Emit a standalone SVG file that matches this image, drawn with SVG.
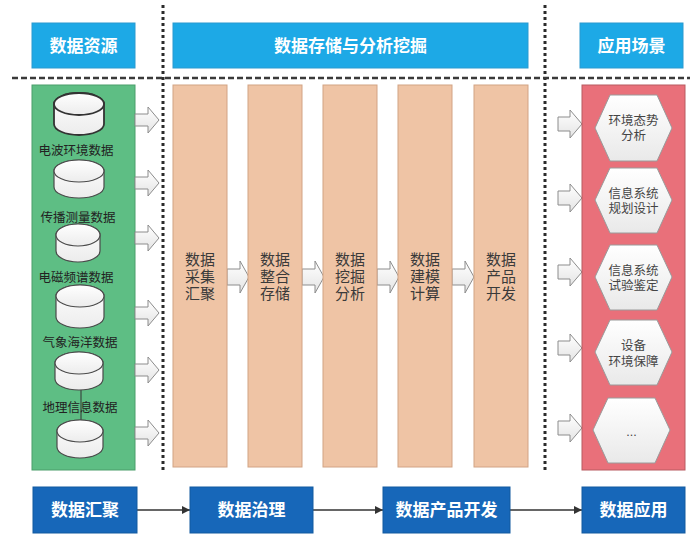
<svg xmlns="http://www.w3.org/2000/svg" width="700" height="541" viewBox="0 0 700 541">
<defs>
<style>
.hdr{fill:#1DA9E6;stroke:#2A9AD0;stroke-width:1}
.htxt{font-family:"Noto Sans CJK SC","Noto Sans",sans-serif;font-size:17px;font-weight:bold;fill:#fff;text-anchor:middle}
.bot{fill:#1767B9;stroke:#135A9F;stroke-width:1}
.col{fill:#EFC4A5;stroke:#D2A384;stroke-width:1}
.ctxt{font-family:"Liberation Sans","Noto Sans CJK SC",sans-serif;font-size:15px;fill:#3A3A3A;text-anchor:middle}
.cyl{fill:url(#cylg);stroke:#4a4a4a;stroke-width:1.2}
.ltxt{font-family:"Noto Sans CJK SC","Noto Sans",sans-serif;font-size:12.5px;fill:#222;text-anchor:middle}
.hex{fill:url(#hexg);stroke:#9a9a9a;stroke-width:1}
.xtxt{font-family:"Liberation Sans","Noto Sans CJK SC",sans-serif;font-size:12.5px;fill:#444;text-anchor:middle}
.barrow{fill:url(#arg);stroke:#8c8c8c;stroke-width:1}
.vsep{stroke:#2b2b2b;stroke-width:3;stroke-dasharray:3 3;fill:none}
.hsep{stroke:#3a3a3a;stroke-width:2.5;stroke-dasharray:6 3;fill:none}
.flow{stroke:#333;stroke-width:1.3;fill:none;marker-end:url(#ah)}
</style>
<linearGradient id="cylg" x1="0" y1="0" x2="0" y2="1">
<stop offset="0" stop-color="#ffffff"/><stop offset="1" stop-color="#ececec"/>
</linearGradient>
<linearGradient id="hexg" x1="0" y1="0" x2="0" y2="1">
<stop offset="0" stop-color="#ffffff"/><stop offset="1" stop-color="#e9e9e9"/>
</linearGradient>
<linearGradient id="arg" x1="0" y1="0" x2="0" y2="1">
<stop offset="0" stop-color="#ffffff"/><stop offset="1" stop-color="#e4e4e4"/>
</linearGradient>
<marker id="ah" viewBox="0 0 10 10" refX="10" refY="5" markerWidth="8" markerHeight="8" orient="auto" markerUnits="userSpaceOnUse">
<path d="M0,0 L10,5 L0,10 z" fill="#333"/>
</marker>
<path id="arL" d="M0,-6 H13 V-13 L24,0 L13,13 V6 H0 Z"/>
<path id="arM" d="M0,-8 H13 V-16 L22,0 L13,16 V8 H0 Z"/>
<path id="arR" d="M0,-7 H12 V-14 L24,0 L12,14 V7 H0 Z"/>
</defs>
<rect width="700" height="541" fill="#fff"/>

<g id="separators">
<line class="vsep" x1="163" y1="5" x2="163" y2="470"/>
<line class="vsep" x1="545" y1="5" x2="545" y2="470"/>
<line class="hsep" x1="12" y1="78" x2="690" y2="78"/>
</g>

<g id="hdr-source"><rect class="hdr" x="32" y="23" width="103" height="45"/><text class="htxt" x="83.5" y="51.5">数据资源</text></g>
<g id="hdr-storage"><rect class="hdr" x="173" y="23" width="355" height="45"/><text class="htxt" x="350.5" y="51.5">数据存储与分析挖掘</text></g>
<g id="hdr-app"><rect class="hdr" x="580" y="23" width="103" height="45"/><text class="htxt" x="631.5" y="51.5">应用场景</text></g>

<g id="source-panel">
<rect x="32" y="85" width="103" height="385" fill="#5EBE84" stroke="#4A9E6B" stroke-width="1"/>
</g>

<g id="connectors">
<line x1="81" y1="390" x2="81" y2="420" stroke="#333" stroke-width="1"/>
<use href="#arL" class="barrow" x="135" y="120"/>
<use href="#arL" class="barrow" x="135" y="183"/>
<use href="#arL" class="barrow" x="135" y="238"/>
<use href="#arL" class="barrow" x="135" y="313"/>
<use href="#arL" class="barrow" x="135" y="370"/>
<use href="#arL" class="barrow" x="135" y="433"/>
<use href="#arM" class="barrow" x="227" y="277"/>
<use href="#arM" class="barrow" x="302" y="277"/>
<use href="#arM" class="barrow" x="377" y="277"/>
<use href="#arM" class="barrow" x="452" y="277"/>
<use href="#arR" class="barrow" x="558" y="124"/>
<use href="#arR" class="barrow" x="558" y="198"/>
<use href="#arR" class="barrow" x="558" y="272"/>
<use href="#arR" class="barrow" x="558" y="348"/>
<use href="#arR" class="barrow" x="558" y="428"/>
<line class="flow" x1="137" y1="510" x2="190" y2="510"/>
<line class="flow" x1="313" y1="510" x2="383" y2="510"/>
<line class="flow" x1="510" y1="510" x2="582" y2="510"/>
</g>

<g id="db-radio">
<path class="cyl" style="stroke:#333;stroke-width:1.8" d="M54,104 V124 A25,11 0 0 0 104,124 V104 A25,11 0 0 0 54,104 Z"/>
<ellipse class="cyl" style="stroke:#333;stroke-width:1.8" cx="79" cy="104" rx="25" ry="11"/>
<text class="ltxt" x="76" y="154.5">电波环境数据</text>
</g>
<g id="db-prop">
<path class="cyl" d="M54,171 V187 A25,11 0 0 0 104,187 V171 A25,11 0 0 0 54,171 Z"/>
<ellipse class="cyl" cx="79" cy="171" rx="25" ry="11"/>
<text class="ltxt" x="78" y="221.5">传播测量数据</text>
</g>
<g id="db-spec">
<path class="cyl" d="M56,235 V251 A22,11 0 0 0 100,251 V235 A22,11 0 0 0 56,235 Z"/>
<ellipse class="cyl" cx="78" cy="235" rx="22" ry="11"/>
<text class="ltxt" x="76" y="281.5">电磁频谱数据</text>
</g>
<g id="db-met">
<path class="cyl" d="M56,296 V317 A24,11 0 0 0 104,317 V296 A24,11 0 0 0 56,296 Z"/>
<ellipse class="cyl" cx="80" cy="296" rx="24" ry="11"/>
<text class="ltxt" x="80" y="346.5">气象海洋数据</text>
</g>
<g id="db-geo-a">
<path class="cyl" d="M55,363 V379 A24,11 0 0 0 103,379 V363 A24,11 0 0 0 55,363 Z"/>
<ellipse class="cyl" cx="79" cy="363" rx="24" ry="11"/>
<text class="ltxt" x="80" y="411.5">地理信息数据</text>
</g>
<g id="db-geo-b">
<path class="cyl" d="M57,431 V447 A23,11 0 0 0 103,447 V431 A23,11 0 0 0 57,431 Z"/>
<ellipse class="cyl" cx="80" cy="431" rx="23" ry="11"/>
</g>

<g id="col-collect"><rect class="col" x="173" y="85" width="54" height="382"/>
<text class="ctxt" x="200" y="265">数据<tspan x="200" dy="17">采集</tspan><tspan x="200" dy="17">汇聚</tspan></text></g>
<g id="col-store"><rect class="col" x="248" y="85" width="54" height="382"/>
<text class="ctxt" x="275" y="265">数据<tspan x="275" dy="17">整合</tspan><tspan x="275" dy="17">存储</tspan></text></g>
<g id="col-mine"><rect class="col" x="323" y="85" width="54" height="382"/>
<text class="ctxt" x="350" y="265">数据<tspan x="350" dy="17">挖掘</tspan><tspan x="350" dy="17">分析</tspan></text></g>
<g id="col-model"><rect class="col" x="398" y="85" width="54" height="382"/>
<text class="ctxt" x="425" y="265">数据<tspan x="425" dy="17">建模</tspan><tspan x="425" dy="17">计算</tspan></text></g>
<g id="col-product"><rect class="col" x="474" y="85" width="54" height="382"/>
<text class="ctxt" x="501" y="265">数据<tspan x="501" dy="17">产品</tspan><tspan x="501" dy="17">开发</tspan></text></g>

<g id="app-panel"><rect x="582" y="85" width="103" height="385" fill="#E9707A" stroke="#B85A61" stroke-width="1"/></g>

<g id="app-env"><polygon class="hex" points="610,95 657,95 672,128 657,161 610,161 595,128"/>
<text class="xtxt" x="633.5" y="124.5">环境态势<tspan x="633.5" dy="15">分析</tspan></text></g>
<g id="app-plan"><polygon class="hex" points="610,168 657,168 672,200 657,233 610,233 595,200"/>
<text class="xtxt" x="633.5" y="197.5">信息系统<tspan x="633.5" dy="15">规划设计</tspan></text></g>
<g id="app-test"><polygon class="hex" points="610,245 657,245 672,277 657,310 610,310 595,277"/>
<text class="xtxt" x="633.5" y="274.5">信息系统<tspan x="633.5" dy="15">试验鉴定</tspan></text></g>
<g id="app-equip"><polygon class="hex" points="610,320 657,320 672,352 657,385 610,385 595,352"/>
<text class="xtxt" x="633.5" y="349.5">设备<tspan x="633.5" dy="16">环境保障</tspan></text></g>
<g id="app-more"><polygon class="hex" points="608,398 655,398 670,430 655,463 608,463 593,430"/>
<text class="xtxt" x="631.5" y="436">...</text></g>

<g id="flow-gather"><rect class="bot" x="33" y="487" width="104" height="46"/><text class="htxt" x="85" y="516">数据汇聚</text></g>
<g id="flow-govern"><rect class="bot" x="190" y="487" width="123" height="46"/><text class="htxt" x="251.5" y="516">数据治理</text></g>
<g id="flow-product"><rect class="bot" x="383" y="487" width="127" height="46"/><text class="htxt" x="446.5" y="516">数据产品开发</text></g>
<g id="flow-app"><rect class="bot" x="582" y="487" width="103" height="46"/><text class="htxt" x="633.5" y="516">数据应用</text></g>
</svg>
